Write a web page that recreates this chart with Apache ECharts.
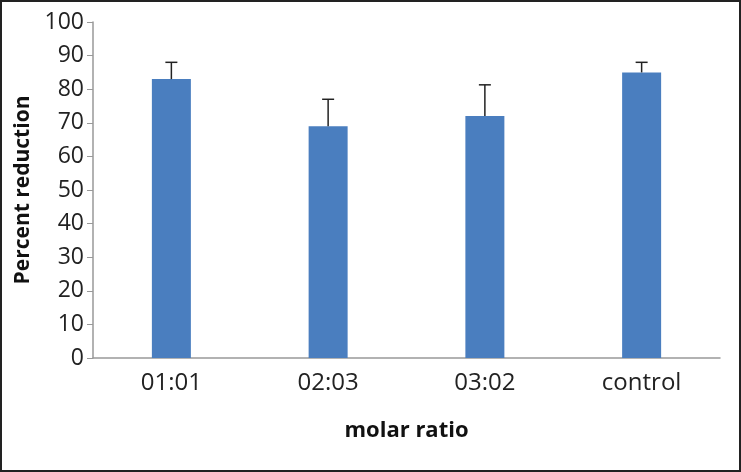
<!DOCTYPE html>
<html>
<head>
<meta charset="utf-8">
<script src="https://cdn.jsdelivr.net/npm/echarts@6/dist/echarts.min.js"></script>
<style>
  html, body { margin: 0; padding: 0; background: #fff; }
  #chart { width: 741px; height: 472px; box-sizing: border-box; border: 2px solid #222; }
</style>
</head>
<body>
<div id="chart"></div>
<script>
// 数据
const categories = ['01:01', '02:03', '03:02', 'control'];
const values = [83, 69, 72, 85];
const errors = [5, 8, 9.3, 3]; // 仅上方误差
const yTicks = { min: 0, max: 100, interval: 10 };

const chart = echarts.init(document.getElementById('chart'));
const font = '"Open Sans", "Liberation Sans", sans-serif';

chart.setOption({
  animation: false,
  grid: { left: 91, right: 19, top: 20, bottom: 112 },
  xAxis: {
    type: 'category',
    data: categories,
    name: 'molar ratio',
    nameLocation: 'middle',
    nameGap: 62,
    nameTextStyle: { color: '#111', fontSize: 22, fontWeight: 'bold', fontFamily: font },
    axisLine: { lineStyle: { color: '#999', width: 1.5 } },
    axisTick: { show: false },
    axisLabel: { color: '#222', fontSize: 24, margin: 13, fontFamily: font }
  },
  yAxis: {
    type: 'value',
    min: yTicks.min,
    max: yTicks.max,
    interval: yTicks.interval,
    name: 'Percent reduction',
    nameLocation: 'middle',
    nameGap: 59,
    nameTextStyle: { color: '#111', fontSize: 21, fontWeight: 'bold', fontFamily: font },
    axisLine: { show: true, lineStyle: { color: '#999', width: 1.5 } },
    axisTick: { show: true, length: 6, lineStyle: { color: '#999' } },
    axisLabel: { color: '#222', fontSize: 23, margin: 9, fontFamily: font },
    splitLine: { show: false }
  },
  series: [
    {
      type: 'bar',
      data: values,
      barWidth: 39,
      itemStyle: { color: '#4a7ebf' },
      z: 2
    },
    {
      type: 'custom',
      z: 3,
      data: values.map((v, i) => [i, v, v + errors[i]]),
      renderItem: (params, api) => {
        const base = api.coord([api.value(0), api.value(1)]);
        const top = api.coord([api.value(0), api.value(2)]);
        const half = 6;
        const style = { stroke: '#222', lineWidth: 1.5 };
        return {
          type: 'group',
          children: [
            { type: 'line', shape: { x1: base[0], y1: base[1], x2: top[0], y2: top[1] }, style },
            { type: 'line', shape: { x1: top[0] - half, y1: top[1], x2: top[0] + half, y2: top[1] }, style }
          ]
        };
      }
    }
  ]
});
</script>
</body>
</html>
